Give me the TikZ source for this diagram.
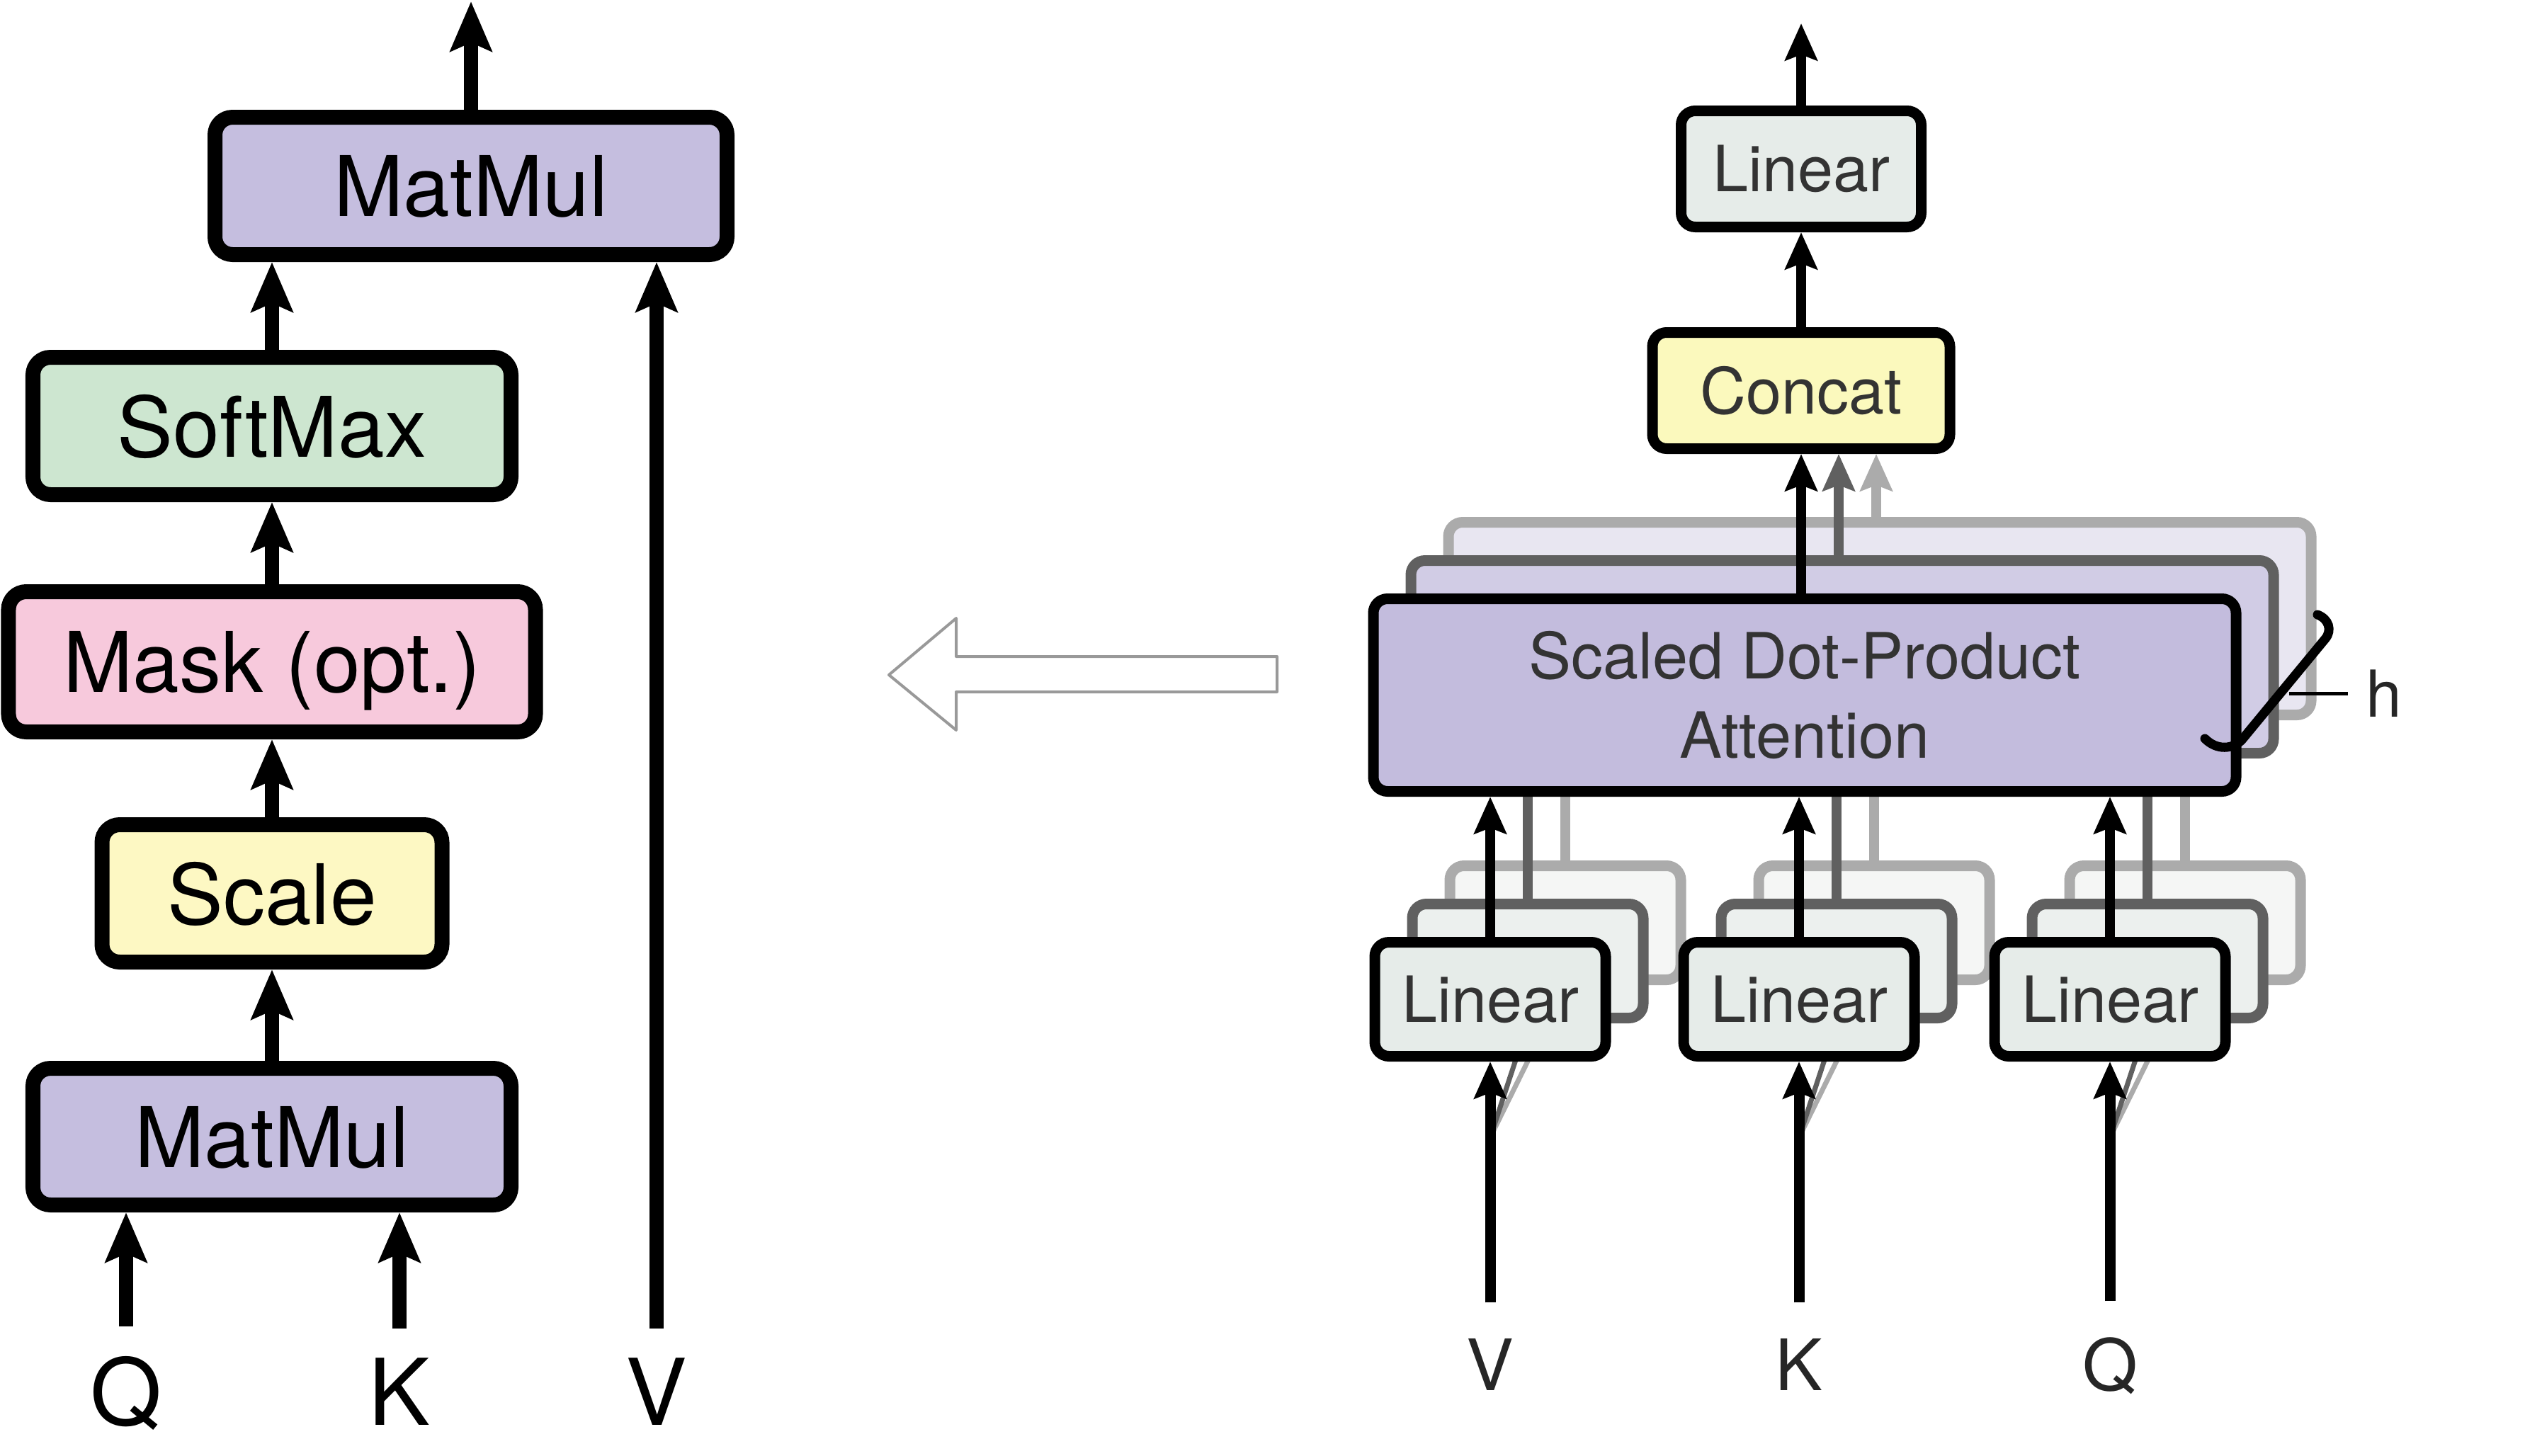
\documentclass[tikz,border=0pt]{standalone}
\usepackage{fontspec}
\setmainfont{TeX Gyre Heros}
\usetikzlibrary{arrows.meta}
\definecolor{mmfill}{HTML}{C5BEDF}
\definecolor{smfill}{HTML}{CDE6D0}
\definecolor{mkfill}{HTML}{F7C9DC}
\definecolor{scfill}{HTML}{FDF8C3}
\definecolor{linfill}{HTML}{E6ECE9}
\definecolor{catfill}{HTML}{FBF9BD}
\definecolor{sdpafill}{HTML}{C3BCDD}
\definecolor{shadeA}{HTML}{606060}
\definecolor{shadeB}{HTML}{ABABAB}
\definecolor{linA}{HTML}{ECF0EE}
\definecolor{linB}{HTML}{F5F6F5}
\definecolor{sdpaA}{HTML}{D1CCE5}
\definecolor{sdpaB}{HTML}{E8E6F1}
\definecolor{hollow}{HTML}{999999}
\begin{document}
\begin{tikzpicture}[
    lbox/.style={draw, line width=0.21cm, rounded corners=0.25cm, inner sep=0pt, text depth=0pt,
      font=\fontsize{33.6}{40}\selectfont},
    rbox/.style={draw, line width=0.15cm, rounded corners=0.2cm, inner sep=0pt, text=black!80,
      font=\fontsize{25.6}{31.9}\selectfont},
    linbox/.style={rbox, fill=linfill, minimum width=3.26cm, minimum height=1.61cm},
    sdpabox/.style={rbox, fill=sdpafill, minimum width=12.18cm, minimum height=2.72cm},
    larr/.style={line width=0.2cm, -{Stealth[length=0.7cm, width=0.58cm, inset=0.12cm]}},
    rarr/.style={line width=0.14cm, -{Stealth[length=0.52cm, width=0.45cm, inset=0.08cm]}},
    llbl/.style={anchor=base, inner sep=0.41cm, font=\fontsize{37}{44}\selectfont},
    rlbl/.style={anchor=base, inner sep=0.5cm, text=black!85, font=\fontsize{28.5}{34}\selectfont}
  ]
  \useasboundingbox (0,0) rectangle (35.65,-20.55);

  % scaled dot-product attention
  \node[lbox, fill=mmfill, minimum width=6.75cm, minimum height=1.93cm] (mmqk) at (3.84,-16.05) {MatMul};
  \node[lbox, fill=scfill, minimum width=4.80cm, minimum height=1.94cm] (scl) at (3.84,-12.615) {Scale};
  \node[lbox, fill=mkfill, minimum width=7.44cm, minimum height=1.98cm] (msk) at (3.84,-9.345) {Mask (opt.)};
  \node[lbox, fill=smfill, minimum width=6.75cm, minimum height=1.94cm] (smax) at (3.84,-6.015) {SoftMax};
  \node[lbox, fill=mmfill, minimum width=7.23cm, minimum height=1.94cm] (mmv) at (6.65,-2.625) {MatMul};
  \coordinate (outL) at (6.65,-0.02);
  \node[llbl] (qL) at (1.78,-20.12) {Q};
  \node[llbl] (kL) at (5.64,-20.12) {K};
  \node[llbl] (vL) at (9.27,-20.12) {V};

  \draw[larr] (qL) -- (qL |- mmqk.south);
  \draw[larr] (kL) -- (kL |- mmqk.south);
  \draw[larr] (vL) -- (vL |- mmv.south);
  \draw[larr] (mmqk) -- (scl);
  \draw[larr] (scl) -- (msk);
  \draw[larr] (msk) -- (smax);
  \draw[larr] (smax) -- (smax |- mmv.south);
  \draw[larr] (mmv) -- (outL);

  \draw[hollow, line width=0.04cm, line join=round]
    (12.55,-9.53) -- (13.50,-8.73) -- (13.50,-9.27) -- (18.03,-9.27)
    -- (18.03,-9.77) -- (13.50,-9.77) -- (13.50,-10.31) -- cycle;

  % multi-head attention
  \node[rlbl] (lblV) at (21.04,-19.63) {V};
  \node[rlbl] (lblK) at (25.40,-19.63) {K};
  \node[rlbl] (lblQ) at (29.79,-19.63) {Q};
  \coordinate (forkV) at (21.04,-16.06);
  \coordinate (forkK) at (25.40,-16.06);
  \coordinate (forkQ) at (29.79,-16.06);
  \node[rbox, fill=catfill, minimum width=4.20cm, minimum height=1.64cm] (cat) at (25.43,-5.515) {Concat};
  \node[rbox, fill=linfill, minimum width=3.39cm, minimum height=1.64cm] (linO) at (25.43,-2.385) {Linear};
  \coordinate (outR) at (25.43,-0.33);

  % the other heads, behind
  \foreach \k/\ln/\fl/\fs in {2/shadeB/linB/sdpaB, 1/shadeA/linA/sdpaA} {
    \begin{scope}[xshift=\k*5.3mm, yshift=\k*5.4mm]
      \foreach \n/\x in {V/21.04, K/25.40, Q/29.79}
        \node[linbox, draw=\ln, fill=\fl] (lin\n\k) at (\x,-14.11) {};
      \node[sdpabox, draw=\ln, fill=\fs] (sdpa\k) at (25.48,-9.815) {};
    \end{scope}
    \foreach \n in {V,K,Q} {
      \draw[draw=\ln, line width=0.07cm] (fork\n) -- (lin\n\k.south);
      \draw[rarr, draw=\ln] (lin\n\k.north) -- (lin\n\k.north |- sdpa\k.south);
    }
    \coordinate (catin\k) at ([xshift=\k*5.3mm]cat.south);
    \draw[rarr, draw=\ln] (catin\k |- sdpa\k.north) -- (catin\k);
  }

  \node[sdpabox, align=center] (sdpa) at (25.48,-9.815) {Scaled Dot-Product\\Attention};
  \foreach \n/\x in {V/21.04, K/25.40, Q/29.79} {
    \node[linbox] (lin\n) at (\x,-14.11) {Linear};
    \draw[rarr, line width=0.15cm] (lbl\n) -- (lin\n);
    \draw[rarr] (lin\n) -- (lin\n.north |- sdpa.south);
  }
  \draw[rarr] (sdpa.north -| cat.south) -- (cat.south);
  \draw[rarr] (cat) -- (linO);
  \draw[rarr] (linO) -- (outR);

  % h heads
  \draw[line width=0.13cm, line cap=round]
    (31.13,-10.43) .. controls (31.30,-10.60) and (31.52,-10.58) .. (31.65,-10.45)
    -- (32.83,-9.02) .. controls (32.93,-8.90) and (32.88,-8.74) .. (32.72,-8.68);
  \coordinate (htick) at (32.32,-9.79);
  \node[anchor=west, inner sep=0.25cm, text=black!85, font=\fontsize{26}{31}\selectfont] (hlab) at (33.15,-9.79) {h};
  \draw[line width=0.05cm] (htick) -- (hlab.west);
\end{tikzpicture}
\end{document}
